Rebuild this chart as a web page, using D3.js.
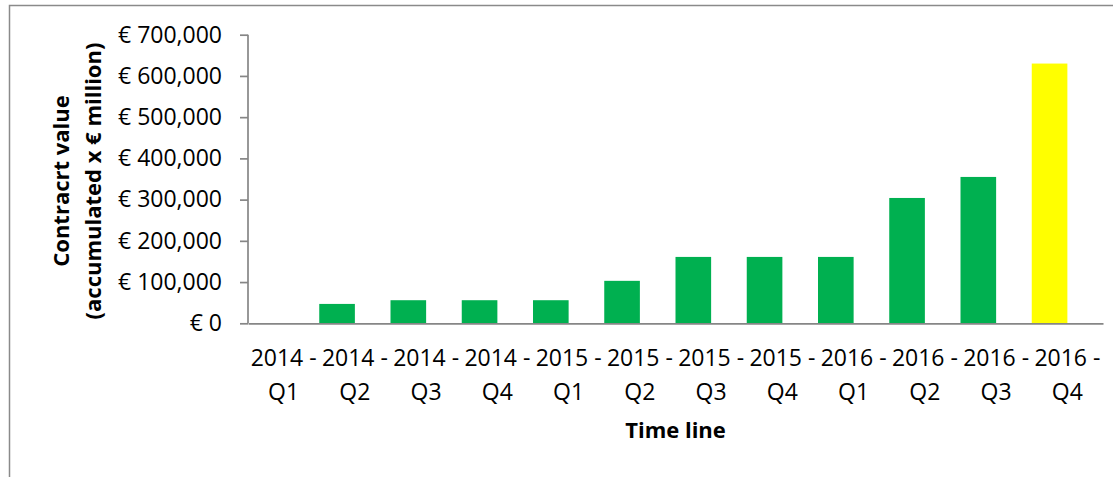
<!DOCTYPE html>
<html lang="en">
<head>
    <meta charset="UTF-8">
    <title>Contract value time line</title>
    <style>
        body {
            margin: 0;
            background: white;
        }

        svg {
            display: block;
            font-family: "Open Sans", sans-serif;
        }

        .tick text {
            font-family: "Open Sans", sans-serif;
            font-size: 23px;
            fill: black;
        }

        .axis path,
        .axis line {
            stroke: #868686;
            stroke-width: 1.7;
        }

        .title {
            font-size: 22px;
            font-weight: bold;
            text-anchor: middle;
        }
    </style>
</head>
<body>
<svg class="chart"></svg>
<script src="https://cdn.jsdelivr.net/npm/d3@7"></script>
<script>

const quarters = ["2014 - Q1", "2014 - Q2", "2014 - Q3", "2014 - Q4",
                  "2015 - Q1", "2015 - Q2", "2015 - Q3", "2015 - Q4",
                  "2016 - Q1", "2016 - Q2", "2016 - Q3", "2016 - Q4"];

const contractValue = [0, 47000, 56000, 56000, 56000, 103000,
                       161000, 161000, 161000, 304000, 355000, 630000];

const yTicks = [0, 100000, 200000, 300000, 400000, 500000, 600000, 700000];

const series = ["contract", "spare"];

const forecast = "2016 - Q4";

const width = 1113,
      height = 477;

const margin = { top: 34.7, right: 10, bottom: 153.7, left: 248 };

const data = quarters.map((q, i) => ({ quarter: q, value: contractValue[i] }));

const svg = d3.select("svg")
    .attr("width", width)
    .attr("height", height);

// chart frame, runs past the right and bottom edge
svg.append("rect")
    .attr("x", 9.5)
    .attr("y", 5.5)
    .attr("width", width + 50)
    .attr("height", height + 50)
    .attr("fill", "white")
    .attr("stroke", "#8a8a8a")
    .attr("stroke-width", 1.5);

const x = d3.scaleBand()
    .domain(quarters)
    .range([margin.left, width - margin.right]);

const inner = d3.scaleBand()
    .domain(series)
    .range([0, x.bandwidth()]);

const y = d3.scaleLinear()
    .domain([0, 700000])
    .range([height - margin.bottom, margin.top]);

svg.append("g")
    .selectAll("rect")
    .data(data)
    .join("rect")
    .attr("x", d => x(d.quarter) + inner("contract"))
    .attr("width", inner.bandwidth())
    .attr("y", d => y(d.value))
    .attr("height", d => y(0) - y(d.value))
    .attr("fill", d => d.quarter === forecast ? "#ffff00" : "#00b050");

const yAxis = svg.append("g")
    .attr("class", "axis")
    .attr("transform", `translate(${margin.left},0)`)
    .call(d3.axisLeft(y)
        .tickValues(yTicks)
        .tickSize(8)
        .tickSizeOuter(0)
        .tickPadding(18)
        .tickFormat(d => "€ " + d3.format(",")(d)))
    .attr("font-family", null)
    .attr("font-size", null);

yAxis.select(".domain").attr("d", `M0,${y(700000)}V${y(0)}`);

const xAxis = svg.append("g")
    .attr("class", "axis")
    .attr("transform", `translate(0,${y(0)})`)
    .call(d3.axisBottom(x).tickSize(0).tickSizeOuter(0))
    .attr("font-family", null)
    .attr("font-size", null);

xAxis.selectAll(".tick text")
    .text(null)
    .attr("y", 0)
    .attr("dy", null)
    .selectAll("tspan")
    .data(d => {
        const [year, q] = d.split(" - ");
        return [year + " -", q];
    })
    .join("tspan")
    .attr("x", 0)
    .attr("y", (d, i) => i === 0 ? 42.5 : 76.5)
    .text(d => d);

svg.append("text")
    .attr("class", "title")
    .attr("x", (x.range()[0] + x.range()[1]) / 2)
    .attr("y", 438)
    .text("Time line");

const yTitle = svg.append("text")
    .attr("class", "title")
    .attr("transform", `translate(69,181) rotate(-90)`);

yTitle.append("tspan")
    .attr("x", 0)
    .attr("y", 0)
    .text("Contracrt value");

yTitle.append("tspan")
    .attr("x", 0)
    .attr("y", 32)
    .text("(accumulated x € million)");

</script>
</body>
</html>
